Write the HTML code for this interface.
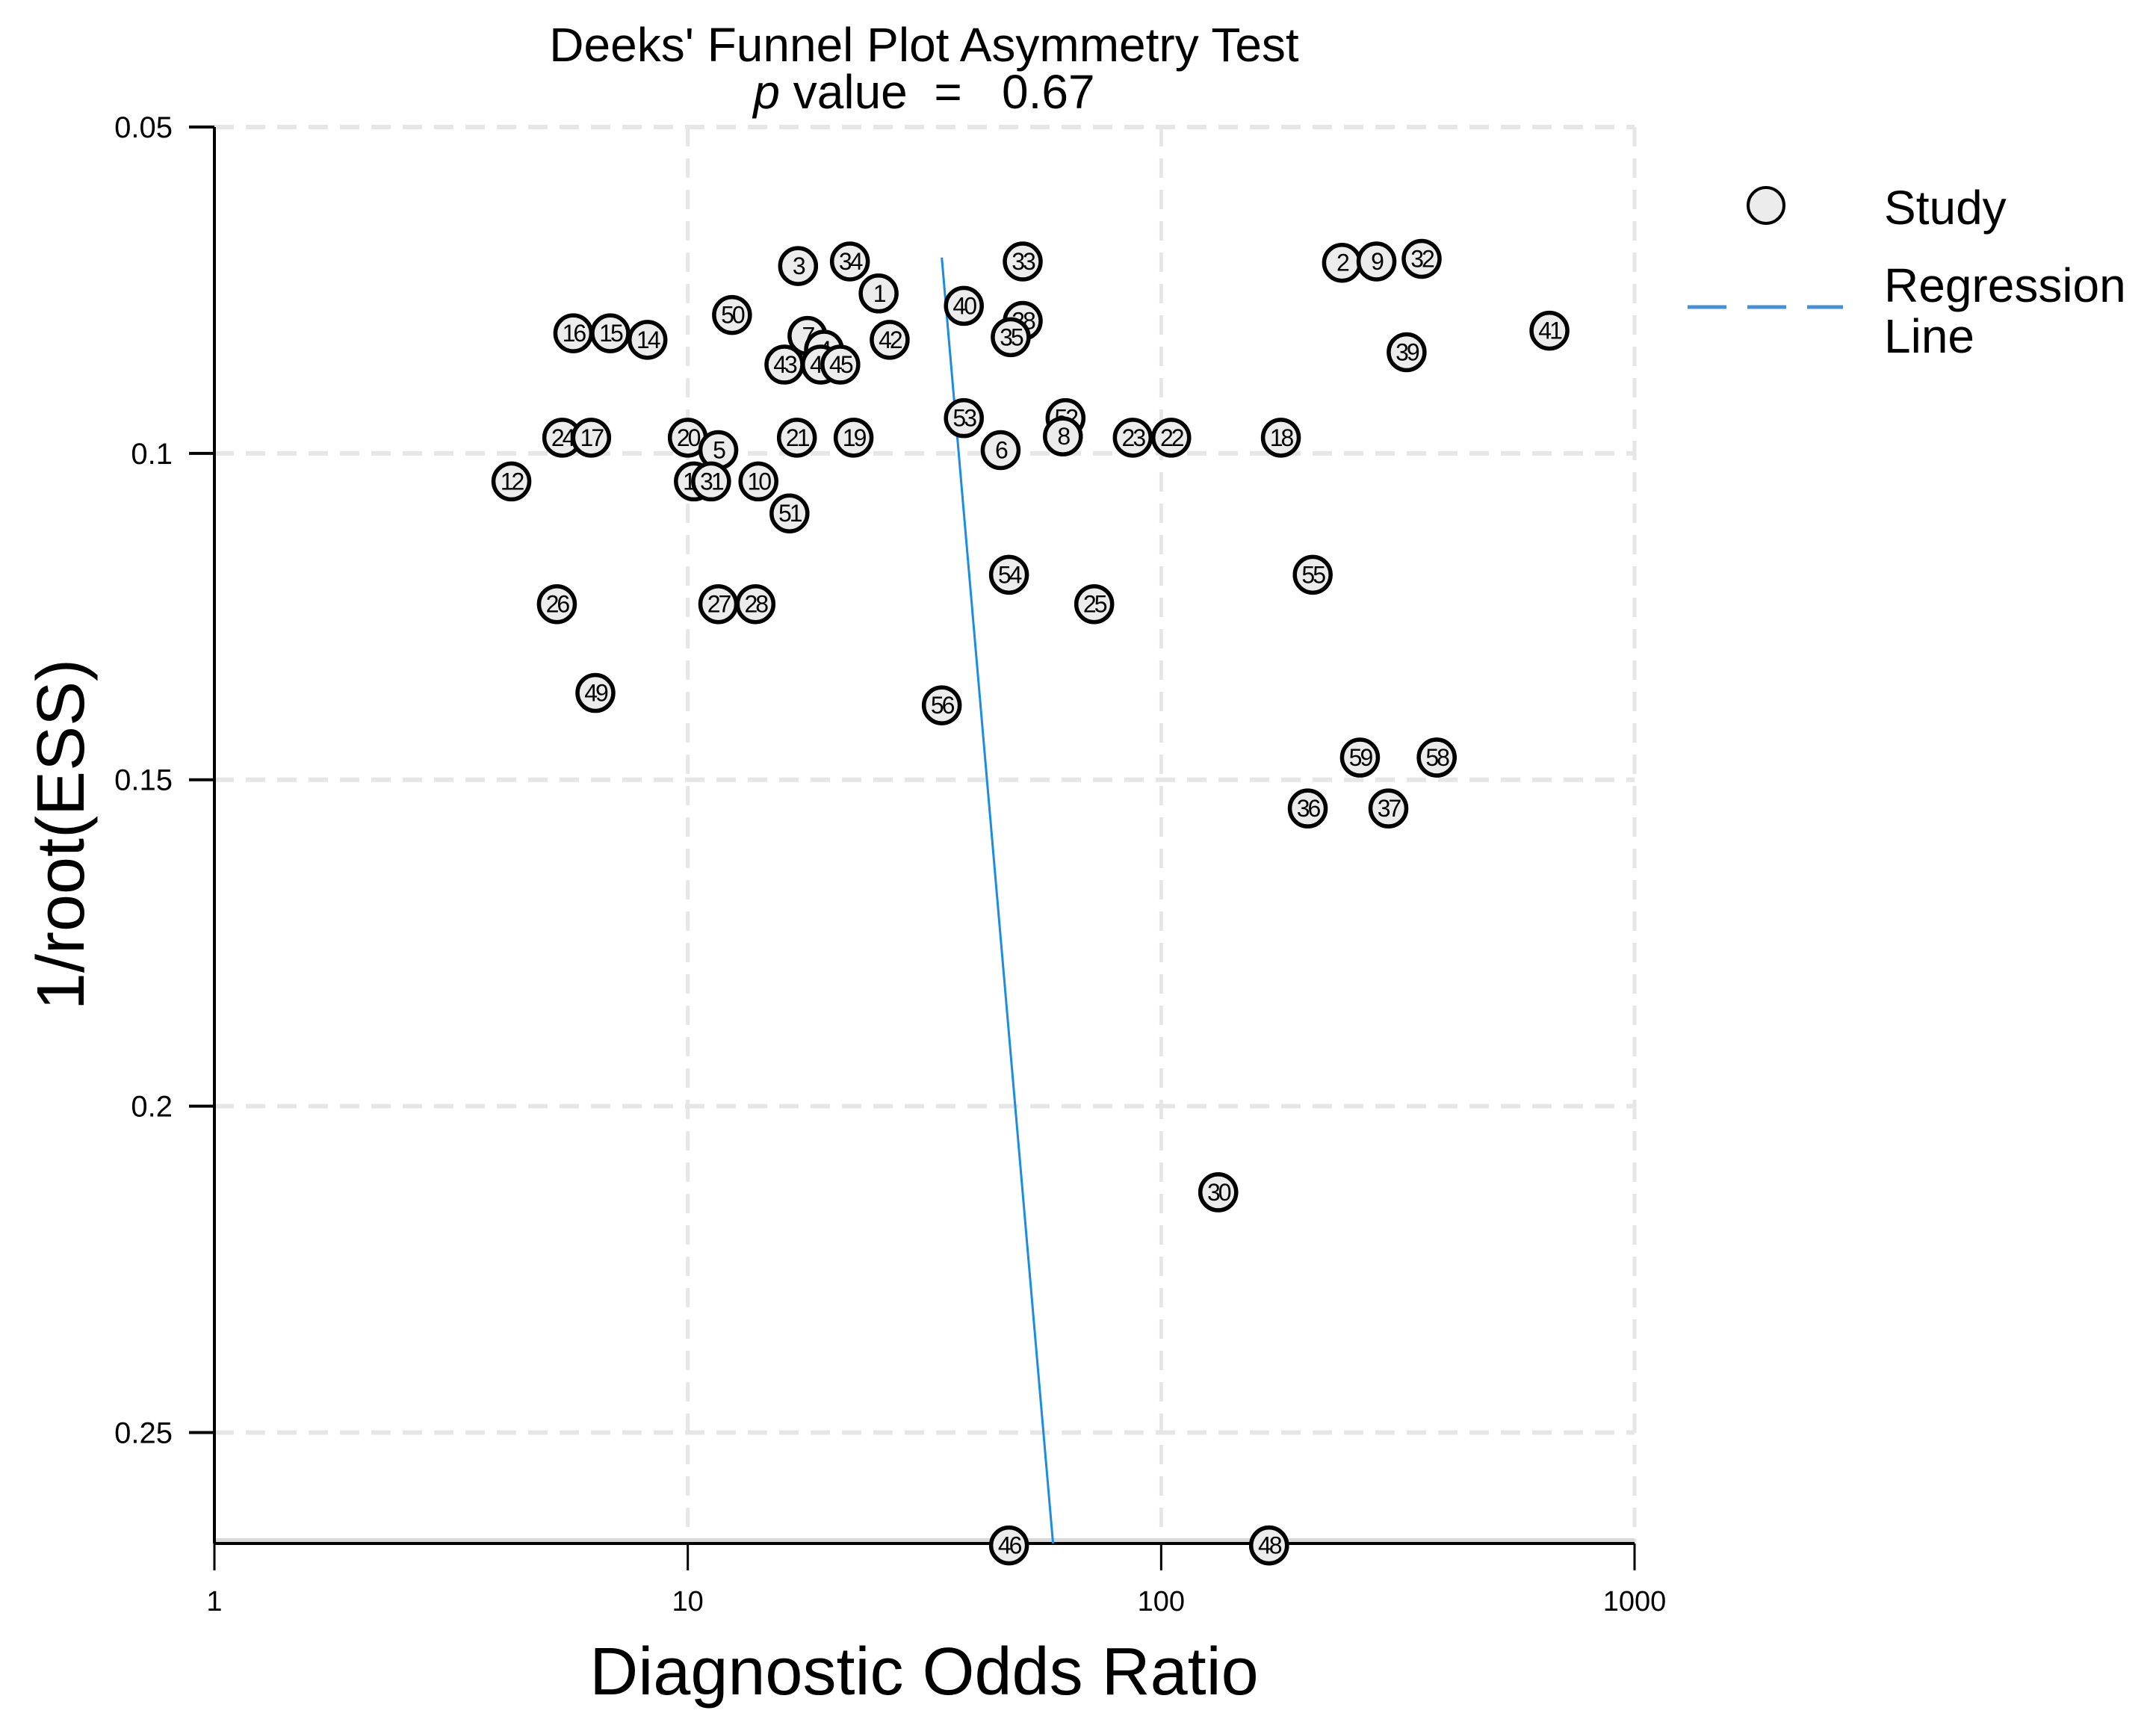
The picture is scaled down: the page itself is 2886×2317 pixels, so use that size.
<!DOCTYPE html>
<html><head><meta charset="utf-8"><style>
html,body{margin:0;padding:0;background:#fff}
svg{display:block}
text{font-family:"Liberation Sans",Arial,sans-serif;fill:#000}
</style></head><body>
<svg id="chart" width="2886" height="2317" viewBox="0 0 2886 2317" xmlns="http://www.w3.org/2000/svg">
<text x="1237" y="82" font-size="64" text-anchor="middle">Deeks' Funnel Plot Asymmetry Test</text>
<text x="1237" y="145" font-size="64" text-anchor="middle" xml:space="preserve"><tspan font-style="italic">p</tspan> value  =   0.67</text>
<g id="grid"></g>
<g id="axes"></g>
<line id="reg" stroke="#1a8de0" stroke-width="3"/>
<g id="pts"></g>
<text x="1237" y="2268" font-size="90" text-anchor="middle">Diagnostic Odds Ratio</text>
<text x="0" y="0" font-size="90" text-anchor="middle" transform="translate(112,1117) rotate(-90)">1/root(ESS)</text>
<g>
<circle cx="2364" cy="275" r="24" fill="#ececec" stroke="#000" stroke-width="4"/>
<text x="2522" y="300" font-size="64">Study</text>
<line x1="2259" y1="411" x2="2467" y2="411" stroke="#4a90d0" stroke-width="5" stroke-dasharray="52,28"/>
<text x="2522" y="404" font-size="64">Regression</text>
<text x="2522" y="472" font-size="64">Line</text>
</g>
</svg>
<script>
const studyIds=[3,34,1,33,40,38,35,50,16,15,14,7,4,43,44,45,42,2,9,32,39,41,53,52,8,23,22,18,24,17,20,5,21,19,6,12,13,31,10,51,54,55,26,27,28,25,49,56,59,57,58,36,37,29,30,46,47,48];
const dorValues=[17.1,22.0,25.3,51.0,38.3,51.0,48.1,12.4,5.73,6.86,8.22,17.9,19.4,16.0,19.1,21.0,26.7,241,285,355,330,661,38.3,62.8,62.0,87.1,105,179,5.43,6.25,10.0,11.6,17.0,22.4,45.8,4.24,10.3,11.2,14.1,16.4,47.7,209,5.29,11.6,13.9,72.2,6.38,34.4,263,382,382,204,302,132,132,47.7,169,169];
const essValues=[0.0713,0.0706,0.0755,0.0706,0.0774,0.0797,0.0822,0.0788,0.0816,0.0816,0.0826,0.0820,0.0841,0.0864,0.0864,0.0864,0.0826,0.0708,0.0706,0.0702,0.0845,0.0812,0.0946,0.0946,0.0974,0.0976,0.0976,0.0976,0.0976,0.0976,0.0976,0.0995,0.0976,0.0976,0.0995,0.1043,0.1043,0.1043,0.1043,0.1092,0.1186,0.1186,0.1231,0.1231,0.1231,0.1231,0.1367,0.1386,0.1466,0.1466,0.1466,0.1544,0.1544,0.2132,0.2132,0.2673,0.2673,0.2673];
const xTicks=[1,10,100,1000];
const xTickLabels=["1","10","100","1000"];
const yTicks=[0.05,0.1,0.15,0.2,0.25];
const yTickLabels=["0.05","0.1","0.15","0.2","0.25"];
const regX=[34.4,59.1];
const regY=[0.07,0.267];
const yMin=0.05,yMax=0.267;

const NS="http://www.w3.org/2000/svg";
const X0=287,X1=2188,Y0=170,Y1=2066;
function xs(v){return X0+Math.log10(v)/3*(X1-X0);}
function ys(v){return Y0+(v-yMin)/(yMax-yMin)*(Y1-Y0);}
function mk(tag,attrs,parent){const e=document.createElementNS(NS,tag);for(const k in attrs)e.setAttribute(k,attrs[k]);parent.appendChild(e);return e;}
const grid=document.getElementById('grid'),axes=document.getElementById('axes'),pts=document.getElementById('pts');
yTicks.forEach((t,i)=>{
  const g=mk('line',{x1:X0,x2:X1,y1:ys(t),y2:ys(t),stroke:'#e6e6e6','stroke-width':6,'stroke-dasharray':'26,16'},grid);
  
  
  const tk=mk('line',{x1:X0-34,x2:X0,y1:ys(t),y2:ys(t),stroke:'#000','stroke-width':4},axes);
  
  
  const lb=mk('text',{x:X0-56,y:ys(t)+14,'font-size':40,'text-anchor':'end'},axes);
  lb.textContent=yTickLabels[i];
  
  
});
xTicks.forEach((t,i)=>{
  if(i>0){const g=mk('line',{x1:xs(t),x2:xs(t),y1:Y0,y2:Y1,stroke:'#e6e6e6','stroke-width':5,'stroke-dasharray':'26,16'},grid);
  
  }
  const tk=mk('line',{x1:xs(t),x2:xs(t),y1:Y1,y2:Y1+36,stroke:'#000','stroke-width':3},axes);
  
  
  const lb=mk('text',{x:xs(t),y:Y1+90,'font-size':38,'text-anchor':'middle'},axes);
  lb.textContent=xTickLabels[i];
  
  
});
const sh=mk('line',{x1:X0,x2:X1,y1:Y1-4,y2:Y1-4,stroke:'#d8d8d8','stroke-width':6},axes);


const xa=mk('line',{x1:X0,x2:X1,y1:Y1,y2:Y1,stroke:'#000','stroke-width':4},axes);


const ya=mk('line',{x1:X0,x2:X0,y1:Y0,y2:Y1,stroke:'#000','stroke-width':4},axes);


const reg=document.getElementById('reg');
reg.setAttribute('x1',xs(regX[0]));reg.setAttribute('y1',ys(regY[0]));
reg.setAttribute('x2',xs(regX[1]));reg.setAttribute('y2',ys(regY[1]));
studyIds.forEach((id,i)=>{
  const g=mk('g',{},pts);
  
  
  const cx=xs(dorValues[i]),cy=ys(essValues[i]);
  mk('circle',{cx:cx,cy:cy,r:24,fill:'#ececec',stroke:'#000','stroke-width':5.5},g);
  const t=mk('text',{x:cx,y:cy+11,'font-size':32,'text-anchor':'middle','letter-spacing':'-3'},g);
  t.textContent=id;
});
</script>
</body></html>
